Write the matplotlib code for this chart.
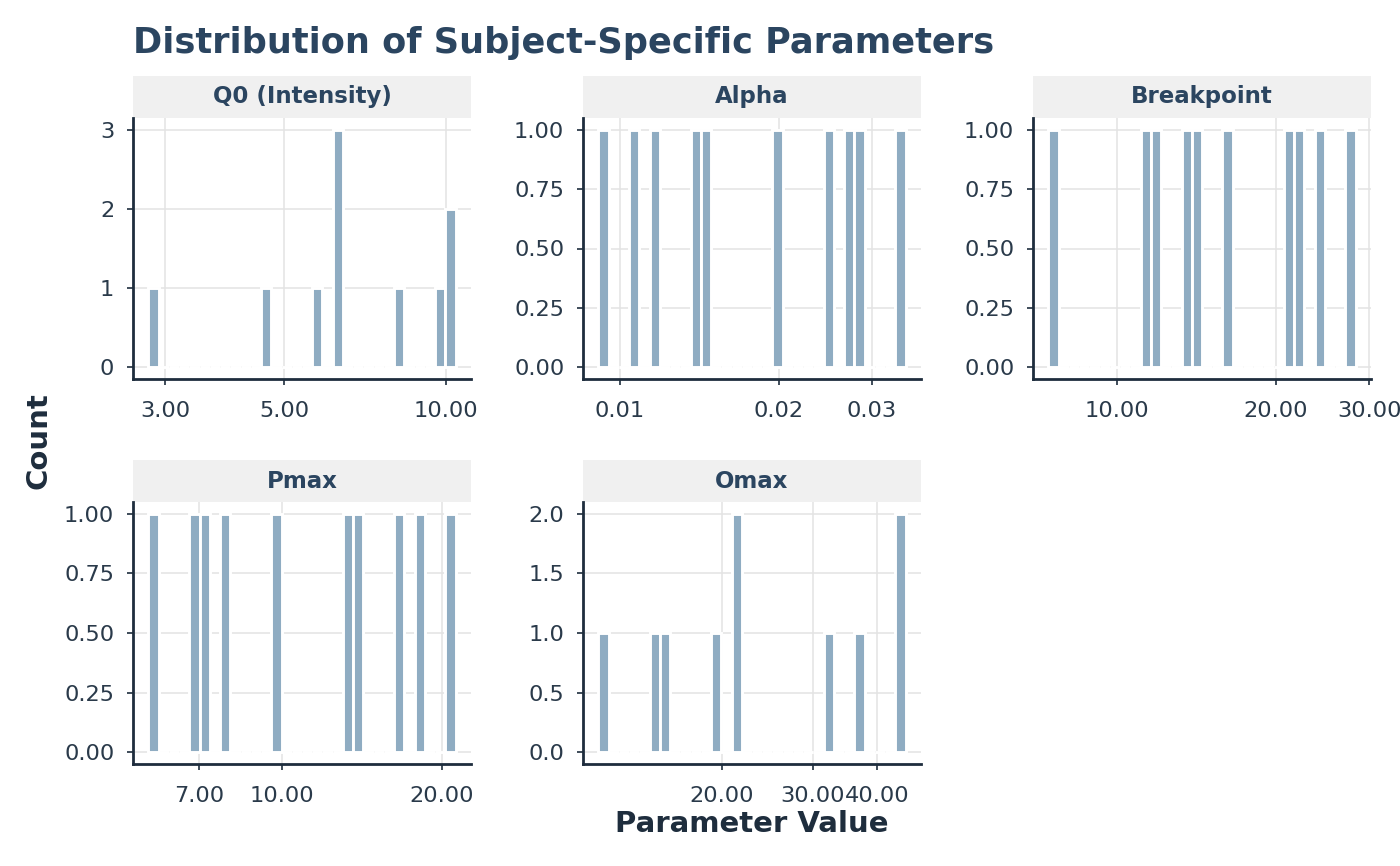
import matplotlib
matplotlib.use("Agg")
import matplotlib.pyplot as plt
from matplotlib.patches import Rectangle
import numpy as np

# subject-level estimates (one value per subject)
q0_vals = [2.85, 4.61, 5.75, 6.27, 6.29, 6.31, 8.19, 9.76, 10.19, 10.21]
alpha_vals = [0.00932, 0.01067, 0.01165, 0.01393, 0.01456, 0.01988,
              0.02487, 0.02717, 0.02841, 0.03398]
bp_vals = [7.60, 11.34, 11.86, 13.55, 14.16, 16.20, 21.16, 22.13, 24.20, 27.65]
pmax_vals = [5.75, 6.87, 7.17, 7.84, 9.78, 13.33, 13.94, 16.64, 18.17, 20.76]
omax_vals = [11.79, 14.82, 15.51, 19.49, 21.33, 21.37, 32.19, 36.93, 44.30, 44.34]

panel_names = ["Q0 (Intensity)", "Alpha", "Breakpoint", "Pmax", "Omax"]
panel_data = [q0_vals, alpha_vals, bp_vals, pmax_vals, omax_vals]

x_ticks = [[3, 5, 10], [0.01, 0.02, 0.03], [10, 20, 30], [7, 10, 20], [20, 30, 40]]
y_ticks = [[0, 1, 2, 3], [0, 0.25, 0.5, 0.75, 1], [0, 0.25, 0.5, 0.75, 1],
           [0, 0.25, 0.5, 0.75, 1], [0, 0.5, 1, 1.5, 2]]
y_fmt = ["{:.0f}", "{:.2f}", "{:.2f}", "{:.2f}", "{:.1f}"]

BAR = "#8FACC2"
NAVY = "#2B4560"
DARK = "#1E2D3D"
TXT = "#2A3A4A"
GRID = "#E3E3E3"

W, H = 1400, 866
fig = plt.figure(figsize=(14, 8.66), dpi=100)

# panel boxes in pixels: (left, top, right, bottom)
cols = [(133, 471), (583, 921), (1033, 1371)]
rows = [(118, 379), (502, 764)]
strip_h = 42


def gg_bins(vals, n=30):
    lv = np.log10(vals)
    w = (lv.max() - lv.min()) / (n - 1)
    return np.linspace(lv.min() - w / 2, lv.max() + w / 2, n + 1)


for i, (name, vals) in enumerate(zip(panel_names, panel_data)):
    r, c = divmod(i, 3)
    x0, x1 = cols[c]
    y0, y1 = rows[r]
    ax = fig.add_axes([x0 / W, 1 - y1 / H, (x1 - x0) / W, (y1 - y0) / H])

    edges = gg_bins(np.array(vals))
    counts, _, _ = ax.hist(vals, bins=10 ** edges, color=BAR,
                           edgecolor="white", linewidth=2.1, zorder=2)
    ax.set_xscale("log")
    span = edges[-1] - edges[0]
    ax.set_xlim(10 ** (edges[0] - 0.05 * span), 10 ** (edges[-1] + 0.05 * span))
    ymax = counts.max()
    ax.set_ylim(-0.05 * ymax, 1.05 * ymax)

    ax.minorticks_off()
    ax.set_xticks(x_ticks[i])
    ax.set_xticklabels(["{:.2f}".format(v) for v in x_ticks[i]])
    ax.set_yticks(y_ticks[i])
    ax.set_yticklabels([y_fmt[i].format(v) for v in y_ticks[i]])

    ax.grid(True, color=GRID, linewidth=1.1, zorder=0)
    ax.set_axisbelow(True)
    for s in ["top", "right"]:
        ax.spines[s].set_visible(False)
    for s in ["left", "bottom"]:
        ax.spines[s].set_color(DARK)
        ax.spines[s].set_linewidth(2.0)
    ax.tick_params(axis="both", colors=DARK, labelcolor=TXT, labelsize=16.2,
                   length=4.5, width=1.2)
    ax.tick_params(axis="y", pad=9)
    ax.tick_params(axis="x", pad=11)

    # facet strip
    sh = strip_h / (y1 - y0)
    ax.add_patch(Rectangle((0, 1.0), 1, sh, transform=ax.transAxes,
                           facecolor="#F0F0F0", edgecolor="none", clip_on=False))
    ax.text(0.5, 1 + sh / 2, name, transform=ax.transAxes, ha="center",
            va="center", fontsize=16.5, fontweight="bold", color=NAVY)

fig.text(133 / W, 1 - 53 / H, "Distribution of Subject-Specific Parameters",
         ha="left", va="baseline", fontsize=25.3, fontweight="bold", color=NAVY)
fig.text(38 / W, 1 - 441 / H, "Count", rotation=90, ha="center", va="center",
         fontsize=21, fontweight="bold", color=DARK)
fig.text(752 / W, 1 - 824 / H, "Parameter Value", ha="center", va="center",
         fontsize=21, fontweight="bold", color=DARK)

fig.savefig("out.png", dpi=100, facecolor="white")
